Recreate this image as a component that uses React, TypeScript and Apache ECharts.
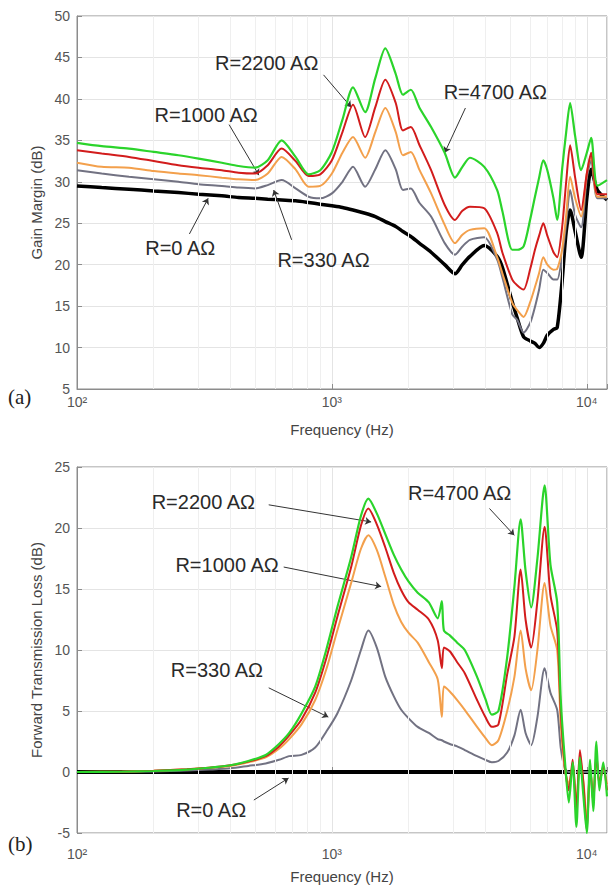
import React, { useEffect, useRef } from 'react';
import * as echarts from 'echarts';

// ---------- (a) Gain margin ----------
const freqA = [100, 125, 160, 200, 250, 300, 370, 430, 500, 560, 635, 720, 810, 900, 1000, 1100, 1210, 1350, 1480, 1620, 1780, 1900, 2040, 2200, 2450, 2770, 3040, 3250, 3480, 3960, 4450, 4660, 5100, 5340, 5650, 6000, 6260, 6500, 6750, 7000, 7400, 7650, 8000, 8300, 8600, 9000, 9500, 10000, 10400, 11000, 12000];
const gm4700 = [34.7, 34.3, 34.0, 33.6, 33.2, 32.8, 32.3, 31.9, 31.7, 32.6, 35.0, 33.0, 30.9, 31.4, 33.6, 37.5, 41.4, 38.4, 42.5, 46.1, 43.0, 40.5, 41.1, 39.0, 36.6, 33.5, 30.5, 31.8, 32.9, 31.8, 29.0, 26.5, 21.8, 21.8, 22.2, 25.5, 28.2, 30.5, 32.6, 31.4, 28.0, 25.4, 31.5, 36.0, 39.5, 35.5, 31.4, 33.5, 35.3, 29.5, 30.2];
const gm2200 = [33.8, 33.4, 33.0, 32.5, 32.0, 31.7, 31.4, 31.1, 31.0, 32.0, 34.0, 32.5, 30.7, 30.9, 32.6, 36.0, 39.3, 35.4, 39.0, 42.3, 39.5, 36.2, 36.6, 34.5, 31.4, 27.2, 25.4, 26.5, 27.0, 26.8, 23.8, 21.5, 18.2, 17.5, 17.0, 19.5, 21.8, 23.5, 25.0, 23.5, 21.5, 20.9, 24.5, 30.0, 34.4, 30.5, 26.6, 31.0, 33.5, 28.5, 28.5];
const gm1000 = [32.3, 31.8, 31.7, 31.3, 31.0, 30.8, 30.5, 30.3, 30.2, 31.0, 33.0, 31.5, 29.4, 29.5, 31.0, 33.5, 35.4, 32.9, 36.0, 38.9, 36.0, 33.2, 33.6, 31.5, 28.6, 24.8, 22.6, 23.6, 24.2, 24.4, 20.9, 19.0, 15.4, 14.5, 13.7, 15.5, 17.3, 19.0, 20.9, 20.0, 19.4, 19.5, 21.8, 26.0, 30.6, 28.0, 25.8, 31.0, 33.2, 28.2, 28.2];
const gm330 = [31.4, 31.0, 30.6, 30.3, 30.0, 29.7, 29.5, 29.3, 29.2, 29.6, 30.2, 29.2, 28.2, 28.0, 28.6, 30.0, 31.8, 29.4, 31.5, 33.8, 31.5, 29.0, 29.2, 27.5, 25.8, 22.6, 21.2, 22.2, 23.0, 23.3, 20.6, 18.5, 14.0, 13.3, 11.8, 13.0, 14.9, 17.0, 19.4, 19.0, 18.2, 18.2, 21.0, 25.0, 29.0, 26.0, 24.5, 30.5, 32.6, 28.0, 28.0];
const gm0 = [29.5, 29.3, 29.1, 28.9, 28.7, 28.5, 28.3, 28.1, 28.0, 27.9, 27.8, 27.7, 27.5, 27.3, 27.1, 26.9, 26.6, 26.2, 25.8, 25.2, 24.6, 24.0, 23.4, 22.6, 21.5, 20.0, 18.9, 20.0, 21.0, 22.3, 21.0, 19.7, 15.5, 13.5, 11.3, 10.8, 10.5, 10.0, 10.5, 11.5, 12.2, 12.4, 18.0, 24.0, 26.6, 24.0, 20.9, 28.0, 31.5, 29.0, 27.8];

// ---------- (b) Forward transmission loss ----------
const freqB = [100, 150, 200, 270, 330, 400, 470, 550, 620, 680, 760, 860, 950, 1050, 1190, 1300, 1390, 1500, 1620, 1750, 1870, 2000, 2170, 2400, 2600, 2700, 2750, 2900, 3100, 3320, 3710, 4000, 4240, 4500, 4870, 5200, 5500, 5750, 6050, 6400, 6830, 7200, 7650, 7900, 8200, 8500, 8800, 9100, 9400, 9700, 10000, 10300, 10600, 10900, 11200, 11600, 12000];
const ftl4700 = [0, 0.02, 0.08, 0.2, 0.35, 0.55, 0.9, 1.4, 2.3, 3.2, 4.8, 7.0, 10.0, 13.5, 17.6, 21.0, 22.4, 21.2, 19.5, 17.8, 16.6, 15.6, 14.7, 13.9, 12.6, 14.0, 11.6, 11.2, 10.6, 10.0, 7.8, 6.0, 4.7, 5.0, 9.4, 15.2, 20.7, 16.5, 13.5, 17.5, 23.5, 17.0, 13.9, 6.0, 1.0, -2.5, 0.8, -4.5, 1.2, -2.0, -5.0, 1.0, -3.2, 2.5, -1.5, 0.8, -2.0];
const ftl2200 = [0, 0.03, 0.1, 0.22, 0.35, 0.55, 0.85, 1.3, 2.1, 3.0, 4.3, 6.5, 9.3, 12.7, 16.8, 20.2, 21.6, 20.3, 18.4, 16.3, 14.9, 13.9, 13.3, 12.5, 10.8, 8.5, 10.2, 9.9, 9.0, 8.1, 5.9, 4.5, 3.7, 3.9, 8.0, 11.1, 16.6, 12.5, 10.2, 14.0, 20.1, 14.5, 11.6, 5.0, 0.5, -1.5, 1.0, -3.0, 1.8, -1.0, -4.8, 0.5, -2.5, 1.5, -1.0, 0.5, -1.5];
const ftl1000 = [0, 0.03, 0.1, 0.22, 0.35, 0.5, 0.8, 1.2, 1.9, 2.7, 3.9, 5.9, 8.4, 11.6, 15.5, 18.3, 19.4, 18.2, 16.0, 13.7, 12.3, 11.4, 10.6, 9.0, 7.6, 4.5, 7.0, 6.6, 5.9, 5.1, 3.7, 2.8, 2.2, 2.6, 5.0, 7.8, 11.6, 8.5, 6.7, 10.0, 15.5, 12.0, 10.0, 4.0, 0.2, -1.0, 0.5, -2.5, 1.0, -0.8, -4.0, 0.3, -2.0, 1.2, -0.8, 0.3, -1.0];
const ftl330 = [0, 0.02, 0.05, 0.12, 0.2, 0.3, 0.5, 0.7, 1.0, 1.3, 1.4, 2.0, 3.3, 4.8, 7.5, 10.0, 11.6, 10.2, 7.8, 6.2, 5.1, 4.4, 3.7, 3.2, 2.7, 2.6, 2.5, 2.3, 2.1, 1.8, 1.3, 1.0, 0.8, 0.9, 1.6, 3.0, 5.1, 3.2, 2.2, 4.5, 8.5, 6.5, 5.1, 2.0, 0.3, 0, 0, 0, 0, 0, 0, 0, 0, 0, 0, 0, 0];
const freqB0 = [100, 12000];
const ftl0 = [0, 0];

// minor log grid positions
const minorFreqs = [200, 300, 400, 500, 600, 700, 800, 900, 2000, 3000, 4000, 5000, 6000, 7000, 8000, 9000];

// annotations: label position, arrow start, arrow tip (data space)
const annA = [
  { text: 'R=2200 AΩ', at: [555, 44.3], from: [927, 42.9], tip: [1190, 39.0] },
  { text: 'R=1000 AΩ', at: [321, 38.1], from: [395, 36.9], tip: [517, 30.8] },
  { text: 'R=4700 AΩ', at: [4375, 40.8], from: [3340, 38.9], tip: [2770, 33.5] },
  { text: 'R=0 AΩ', at: [254, 22.0], from: [276, 23.7], tip: [327, 28.0] },
  { text: 'R=330 AΩ', at: [927, 20.6], from: [695, 23.0], tip: [591, 29.0] },
];
const annB = [
  { text: 'R=2200 AΩ', at: [313, 22.1], from: [565, 21.9], tip: [1425, 20.5] },
  { text: 'R=1000 AΩ', at: [388, 17.0], from: [647, 16.8], tip: [1560, 15.2] },
  { text: 'R=330 AΩ', at: [354, 8.4], from: [565, 6.9], tip: [968, 4.5] },
  { text: 'R=0 AΩ', at: [336, -3.1], from: [494, -2.3], tip: [676, -0.5] },
  { text: 'R=4700 AΩ', at: [3170, 22.9], from: [4150, 21.6], tip: [5193, 19.4] },
];

const FONT = '"Liberation Sans", Arial, Helvetica, sans-serif';
const C = { green: '#2bd42b', red: '#d21c1c', orange: '#f3a04c', gray: '#727282', black: '#000000' };
const SUP: Record<number, string> = { 2: '²', 3: '³', 4: '⁴' };

const pairs = (f: number[], v: number[]) => f.map((x, i) => [x, v[i]]);

function xAxisFor(gridIndex: number, margin: number, nameGap: number) {
  return {
    type: 'log', gridIndex, logBase: 10, min: 100, max: 12000,
    axisLine: { show: true, lineStyle: { color: '#8c8c8c' } },
    axisTick: { show: true, inside: true, length: 5, lineStyle: { color: '#8c8c8c' } },
    axisLabel: {
      margin, color: '#555', fontSize: 14, fontFamily: FONT,
      formatter: (v: number) => {
        const e = Math.log10(v);
        if (Math.abs(e - Math.round(e)) > 1e-6) return '';
        return '10' + (SUP[Math.round(e)] || '');
      },
    },
    splitLine: { show: true, lineStyle: { color: '#e4e4e4', width: 1 } },
    name: 'Frequency (Hz)', nameLocation: 'middle', nameGap,
    nameTextStyle: { color: '#444', fontSize: 15, fontFamily: FONT },
  };
}

function yAxisFor(gridIndex: number, min: number, max: number, name: string) {
  return {
    type: 'value', gridIndex, min, max, interval: 5,
    axisLine: { show: true, lineStyle: { color: '#8c8c8c' } },
    axisTick: { show: true, inside: true, length: 5, lineStyle: { color: '#8c8c8c' } },
    axisLabel: { margin: 7, color: '#555', fontSize: 14, fontFamily: FONT },
    splitLine: { show: true, lineStyle: { color: '#e4e4e4', width: 1 } },
    name, nameLocation: 'middle', nameGap: 33,
    nameTextStyle: { color: '#444', fontSize: 15, fontFamily: FONT },
  };
}

function curve(idx: number, f: number[], v: number[], color: string, width: number, z: number) {
  return {
    type: 'line', xAxisIndex: idx, yAxisIndex: idx, data: pairs(f, v),
    symbol: 'none', smooth: 0.25, lineStyle: { color, width }, itemStyle: { color }, z, silent: true,
  };
}

function helpers(idx: number, f: number[], v: number[], ann: any[]) {
  return [
    {
      type: 'line', xAxisIndex: idx, yAxisIndex: idx, data: pairs(f, v), symbol: 'none',
      lineStyle: { opacity: 0 }, silent: true, z: 1,
      markLine: {
        silent: true, symbol: 'none', label: { show: false },
        lineStyle: { color: '#efefef', width: 1, type: 'solid' },
        data: minorFreqs.map((m) => ({ xAxis: m })),
      },
    },
    {
      type: 'line', xAxisIndex: idx, yAxisIndex: idx, data: pairs(f, v), symbol: 'none',
      lineStyle: { opacity: 0 }, silent: true, z: 10,
      markLine: {
        silent: true, symbol: ['none', 'arrow'], symbolSize: 6, label: { show: false },
        lineStyle: { color: '#333', width: 1, type: 'solid' },
        data: ann.map((a) => [{ coord: a.from }, { coord: a.tip }]),
      },
      markPoint: {
        silent: true, symbol: 'circle', symbolSize: 1, itemStyle: { color: 'rgba(0,0,0,0)' },
        label: { show: true, position: 'inside', color: '#2a2a2a', fontSize: 20, fontFamily: FONT, formatter: (p: any) => p.name },
        data: ann.map((a) => ({ name: a.text, coord: a.at })),
      },
    },
  ];
}

export default function App() {
  const ref = useRef<HTMLDivElement>(null);
  useEffect(() => {
    if (!ref.current) return;
    const chart = echarts.init(ref.current, null, { renderer: 'svg' });
    chart.setOption({
      animation: false,
      backgroundColor: '#ffffff',
      grid: [
        { left: 77, top: 16, right: 0, height: 373, show: true, borderColor: '#8c8c8c', borderWidth: 1 },
        { left: 77, top: 467, right: 0, height: 366, show: true, borderColor: '#8c8c8c', borderWidth: 1 },
      ],
      xAxis: [xAxisFor(0, 6, 33), xAxisFor(1, 14, 36)],
      yAxis: [yAxisFor(0, 5, 50, 'Gain Margin (dB)'), yAxisFor(1, -5, 25, 'Forward Transmission Loss (dB)')],
      graphic: [
        { type: 'text', left: 8, top: 386, style: { text: '(a)', font: '21px "Liberation Serif", "DejaVu Serif", serif', fill: '#222' } },
        { type: 'text', left: 8, top: 833, style: { text: '(b)', font: '21px "Liberation Serif", "DejaVu Serif", serif', fill: '#222' } },
      ],
      series: [
        ...helpers(0, freqA, gm0, annA),
        curve(0, freqA, gm0, C.black, 3.5, 3),
        curve(0, freqA, gm330, C.gray, 2, 4),
        curve(0, freqA, gm1000, C.orange, 2, 5),
        curve(0, freqA, gm2200, C.red, 2, 6),
        curve(0, freqA, gm4700, C.green, 2.2, 7),
        ...helpers(1, freqB0, ftl0, annB),
        curve(1, freqB0, ftl0, C.black, 4, 3),
        curve(1, freqB, ftl330, C.gray, 2, 4),
        curve(1, freqB, ftl1000, C.orange, 2, 5),
        curve(1, freqB, ftl2200, C.red, 2, 6),
        curve(1, freqB, ftl4700, C.green, 2.2, 7),
      ],
    });
    return () => chart.dispose();
  }, []);
  return <div ref={ref} style={{ position: 'absolute', left: 0, top: 0, width: 610, height: 888 }} />;
}
